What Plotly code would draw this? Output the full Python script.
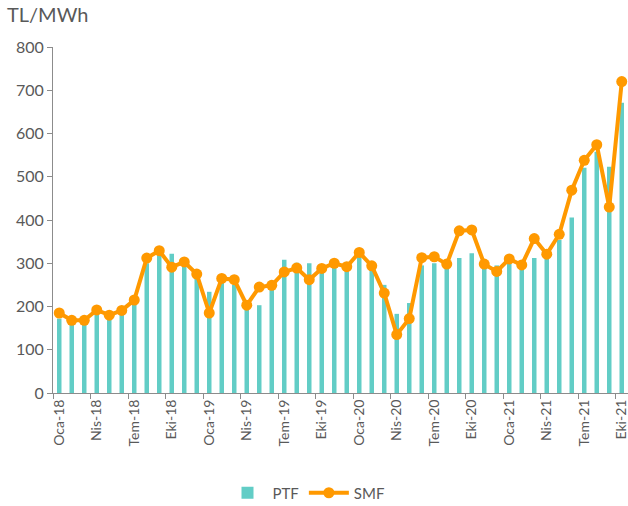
import plotly.graph_objects as go

months = ["Oca-18","Şub-18","Mar-18","Nis-18","May-18","Haz-18","Tem-18","Ağu-18","Eyl-18","Eki-18","Kas-18","Ara-18",
          "Oca-19","Şub-19","Mar-19","Nis-19","May-19","Haz-19","Tem-19","Ağu-19","Eyl-19","Eki-19","Kas-19","Ara-19",
          "Oca-20","Şub-20","Mar-20","Nis-20","May-20","Haz-20","Tem-20","Ağu-20","Eyl-20","Eki-20","Kas-20","Ara-20",
          "Oca-21","Şub-21","Mar-21","Nis-21","May-21","Haz-21","Tem-21","Ağu-21","Eyl-21","Eki-21"]

ptf = [172, 158, 160, 182, 170, 183, 207, 300, 320, 322, 298, 268,
       234, 255, 250, 195, 203, 240, 308, 301, 300, 290, 298, 292,
       316, 290, 250, 183, 208, 295, 300, 294, 312, 323, 292, 295,
       307, 290, 312, 311, 354, 406, 521, 558, 523, 671]

smf = [185, 168, 168, 192, 180, 191, 215, 312, 329, 291, 303, 275,
       185, 265, 262, 203, 245, 249, 280, 289, 262, 288, 300, 292,
       325, 294, 231, 135, 172, 313, 315, 298, 375, 377, 298, 281,
       310, 296, 357, 321, 367, 469, 538, 574, 430, 720]

x = list(range(len(months)))
label_idx = x[::3]
tick_text = [months[i] for i in label_idx]
minor_ticks = [i - 0.5 for i in label_idx]

grey = "#595959"
axis_col = "#8c8c8c"
font_family = "Lato, 'Open Sans', sans-serif"

fig = go.Figure()
fig.add_trace(go.Bar(x=x, y=ptf, name="PTF", marker=dict(color="#62CDC6", line=dict(width=0))))
fig.add_trace(go.Scatter(x=x, y=smf, name="SMF", mode="lines+markers",
                         line=dict(color="#FF9900", width=4),
                         marker=dict(color="#FF9900", size=11)))

fig.update_layout(
    width=628, height=506,
    margin=dict(l=53, r=0, t=47, b=113, autoexpand=False),
    plot_bgcolor="white", paper_bgcolor="white",
    font=dict(family=font_family, color=grey, size=14),
    bargap=0.64,
    showlegend=True,
    legend=dict(orientation="h", x=0.44, xanchor="center", y=-0.289, yanchor="middle",
                font=dict(size=15, color=grey), itemwidth=40),
)
fig.add_annotation(text="TL/MWh", xref="paper", yref="paper", x=-0.0835, y=1.095,
                   xanchor="left", yanchor="middle", showarrow=False,
                   font=dict(size=20, color=grey, family=font_family))

fig.update_xaxes(
    automargin=False,
    range=[-0.5, len(months) - 0.5],
    tickmode="array", tickvals=label_idx, ticktext=tick_text,
    tickangle=-90, ticks="", showline=True, linecolor=axis_col, linewidth=1,
    tickfont=dict(size=14, color=grey), ticklabeloverflow="allow",
    showgrid=False, zeroline=False,
    minor=dict(tickmode="array", tickvals=minor_ticks, ticks="outside", ticklen=5, tickcolor=axis_col, showgrid=False),
)
fig.update_yaxes(
    automargin=False,
    range=[0, 800], dtick=100, ticks="outside", ticklen=5, tickcolor=axis_col,
    showline=True, linecolor=axis_col, linewidth=1, showgrid=False, zeroline=False,
    tickfont=dict(size=16, color=grey),
)

fig.write_html("out.html", config={"displayModeBar": False},
               post_script="document.body.style.margin='0';document.body.style.overflow='hidden';")
